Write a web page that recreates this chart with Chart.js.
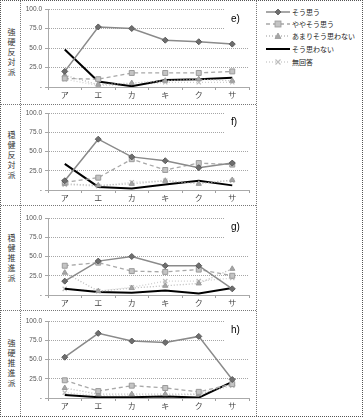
<!DOCTYPE html>
<html><head><meta charset="utf-8">
<script src="https://cdn.jsdelivr.net/npm/chart.js@4"></script>
<style>
html,body{margin:0;padding:0;background:#fff;}
#wrap{position:relative;width:363px;height:417px;overflow:hidden;box-sizing:border-box;border:1px dotted #555;font-family:"Noto Sans CJK JP",sans-serif;}
.h{position:absolute;height:0;border-top:1px dotted #777;}
.v{position:absolute;width:0;border-left:1px dotted #777;}
canvas{position:absolute;}
.glabel{position:absolute;left:5px;writing-mode:vertical-rl;text-orientation:upright;font-size:8px;letter-spacing:2px;color:#333;transform:translateY(-50%);line-height:10px;}
#legend{position:absolute;left:264px;top:4px;font-size:7px;color:#222;}
.lrow{position:absolute;left:0;height:12px;white-space:nowrap;display:flex;align-items:center;}
.lrow svg{margin-right:1px;}
</style></head>
<body>
<div id="wrap"></div>
<script>
// ---- data ----
const categories = ['ア','エ','カ','キ','ク','サ'];
const seriesNames = ['そう思う','ややそう思う','あまりそう思わない','そう思わない','無回答'];
const yTickValues = [0,25,50,75,100];
const yTickLabels = ['-','25.0','50.0','75.0','100.0'];
const groupLabels = ['強硬反対派','穏健反対派','穏健推進派','強硬推進派'];
const panelTags = ['e)','f)','g)','h)'];

const eAgree     = [20,77,75,60,58,55];
const eSomewhat  = [11,10,18,18,18,20];
const eNotMuch   = [15,3,5,8,10,8];
const eDisagree  = [48,7,1,9,10,12];
const eNoAnswer  = [10,2,2,6,6,6];

const fAgree     = [12,66,43,38,29,35];
const fSomewhat  = [10,16,40,26,35,33];
const fNotMuch   = [8,6,8,12,8,13];
const fDisagree  = [34,4,2,7,12,6];
const fNoAnswer  = [7,5,10,12,10,12];

const gAgree     = [18,44,50,38,38,8];
const gSomewhat  = [38,42,31,30,33,25];
const gNotMuch   = [29,5,9,12,15,34];
const gDisagree  = [8,4,3,6,2,9];
const gNoAnswer  = [8,5,10,18,18,22];

const hAgree     = [53,84,74,72,80,24];
const hSomewhat  = [23,9,16,13,8,18];
const hNotMuch   = [13,5,5,5,5,18];
const hDisagree  = [4,1,1,2,0.5,21];
const hNoAnswer  = [7,3,3,3,5,16];

const panelData = [
  [eAgree,eSomewhat,eNotMuch,eDisagree,eNoAnswer],
  [fAgree,fSomewhat,fNotMuch,fDisagree,fNoAnswer],
  [gAgree,gSomewhat,gNotMuch,gDisagree,gNoAnswer],
  [hAgree,hSomewhat,hNotMuch,hDisagree,hNoAnswer]
];

// ---- styles / layout ----
const styles = [
  {borderColor:'#8a8a8a',borderWidth:1.5,pointStyle:'rectRot',pointRadius:3,pointBackgroundColor:'#6e6e6e',pointBorderColor:'#5a5a5a',pointBorderWidth:1},
  {borderColor:'#a8a8a8',borderWidth:1.3,borderDash:[4,3],pointStyle:'rect',pointRadius:3.5,pointBackgroundColor:'#c4c4c4',pointBorderColor:'#9a9a9a',pointBorderWidth:1},
  {borderColor:'#bababa',borderWidth:1.3,borderDash:[1,2],pointStyle:'triangle',pointRadius:3,pointBackgroundColor:'#a6a6a6',pointBorderColor:'#999',pointBorderWidth:1},
  {borderColor:'#000',borderWidth:2,pointRadius:0},
  {borderColor:'#d0d0d0',borderWidth:1.3,borderDash:[1,2],pointStyle:'crossRot',pointRadius:3,pointBackgroundColor:'#c0c0c0',pointBorderColor:'#bdbdbd',pointBorderWidth:1.2}
];
const panels = [
  {top:0,   h:104, plotTop:8,  xH:18},
  {top:104, h:101, plotTop:8,  xH:16},
  {top:205, h:105, plotTop:12, xH:16},
  {top:310, h:106, plotTop:10, xH:19}
];
const wrap = document.getElementById('wrap');
function addLine(cls, css){const d=document.createElement('div');d.className=cls;Object.assign(d.style,css);wrap.appendChild(d);}
addLine('v',{left:'19px',top:'0px',height:'417px'});
addLine('v',{left:'255px',top:'0px',height:'417px'});
[104,205,310].forEach(y=>addLine('h',{left:'0px',top:(y-1)+'px',width:'255px'}));

const tagPlugin = {
  id:'tag',
  beforeDatasetsDraw(chart,args,opts){
    const {ctx,chartArea,scales:{y}} = chart;
    const y100=y.getPixelForValue(100), y75=y.getPixelForValue(75);
    ctx.save();
    ctx.fillStyle='#fff';
    ctx.fillRect(chartArea.right-24,y100-2,30,y75-y100+4);
    ctx.fillStyle='#000';
    ctx.font='10px "Liberation Sans", Arial, sans-serif';
    ctx.textAlign='left';ctx.textBaseline='middle';
    ctx.fillText(opts.text,chartArea.right-18,(y100+y75)/2);
    ctx.restore();
  }
};

panels.forEach((p,i)=>{
  const lab=document.createElement('div');
  lab.className='glabel';lab.textContent=groupLabels[i];
  lab.style.top=(p.top+p.h/2)+'px';
  wrap.appendChild(lab);

  const cv=document.createElement('canvas');
  cv.width=236;cv.height=p.h;
  cv.style.left='20px';cv.style.top=p.top+'px';
  cv.style.width='236px';cv.style.height=p.h+'px';
  wrap.appendChild(cv);

  const datasets = panelData[i].map((d,k)=>Object.assign({label:seriesNames[k],data:d,tension:0,fill:false},styles[k]));
  new Chart(cv,{
    type:'line',
    data:{labels:categories,datasets},
    plugins:[tagPlugin],
    options:{
      responsive:false,animation:false,devicePixelRatio:1,
      layout:{padding:{left:0,right:8,top:p.plotTop,bottom:0}},
      plugins:{legend:{display:false},tooltip:{enabled:false},tag:{text:panelTags[i]}},
      scales:{
        x:{
          offset:true,
          grid:{display:true,drawOnChartArea:false,drawTicks:true,tickLength:3,offset:true,color:'#a0a0a0'},
          border:{display:true,color:'#aaaaaa',width:1},
          ticks:{font:{size:8,family:'"Noto Sans CJK JP", sans-serif'},color:'#444',padding:0,maxRotation:0,autoSkip:false},
          afterFit(s){s.height=p.xH;}
        },
        y:{
          min:0,max:100,
          afterBuildTicks(s){s.ticks=yTickValues.map(v=>({value:v}));},
          ticks:{font:{size:6.5,family:'"Liberation Sans", Arial, sans-serif'},color:'#555',padding:3,
            callback(v){const j=yTickValues.indexOf(v);return j>=0?yTickLabels[j]:'';}},
          grid:{color:'#a6a6a6',lineWidth:1,tickLength:3,tickColor:'#a6a6a6'},
          border:{display:true,color:'#aaaaaa',width:1,dash:[1,1]},
          afterFit(s){s.width=27;}
        }
      }
    }
  });
});

// ---- legend ----
const legend=document.createElement('div');legend.id='legend';wrap.appendChild(legend);
const legendY=[1,13,25,38,51];
const markerSvg=[
  '<polygon points="13,2 16,5 13,8 10,5" fill="#6e6e6e" stroke="#5a5a5a" stroke-width="0.8"/>',
  '<rect x="10" y="2" width="6" height="6" fill="#c4c4c4" stroke="#9a9a9a" stroke-width="0.8"/>',
  '<polygon points="13,2 16,7.5 10,7.5" fill="#a6a6a6" stroke="#999" stroke-width="0.8"/>',
  '',
  '<path d="M10.5 2.5 L15.5 7.5 M15.5 2.5 L10.5 7.5" stroke="#bdbdbd" stroke-width="1.2"/>'
];
seriesNames.forEach((n,k)=>{
  const s=styles[k];
  const row=document.createElement('div');row.className='lrow';row.style.top=legendY[k]+'px';
  const dash=s.borderDash?s.borderDash.join(','):'none';
  row.innerHTML='<svg width="26" height="10"><line x1="1" y1="5" x2="25" y2="5" stroke="'+s.borderColor+'" stroke-width="'+s.borderWidth+'" stroke-dasharray="'+dash+'"/>'+markerSvg[k]+'</svg><span>'+n+'</span>';
  legend.appendChild(row);
});
</script>
</body></html>
